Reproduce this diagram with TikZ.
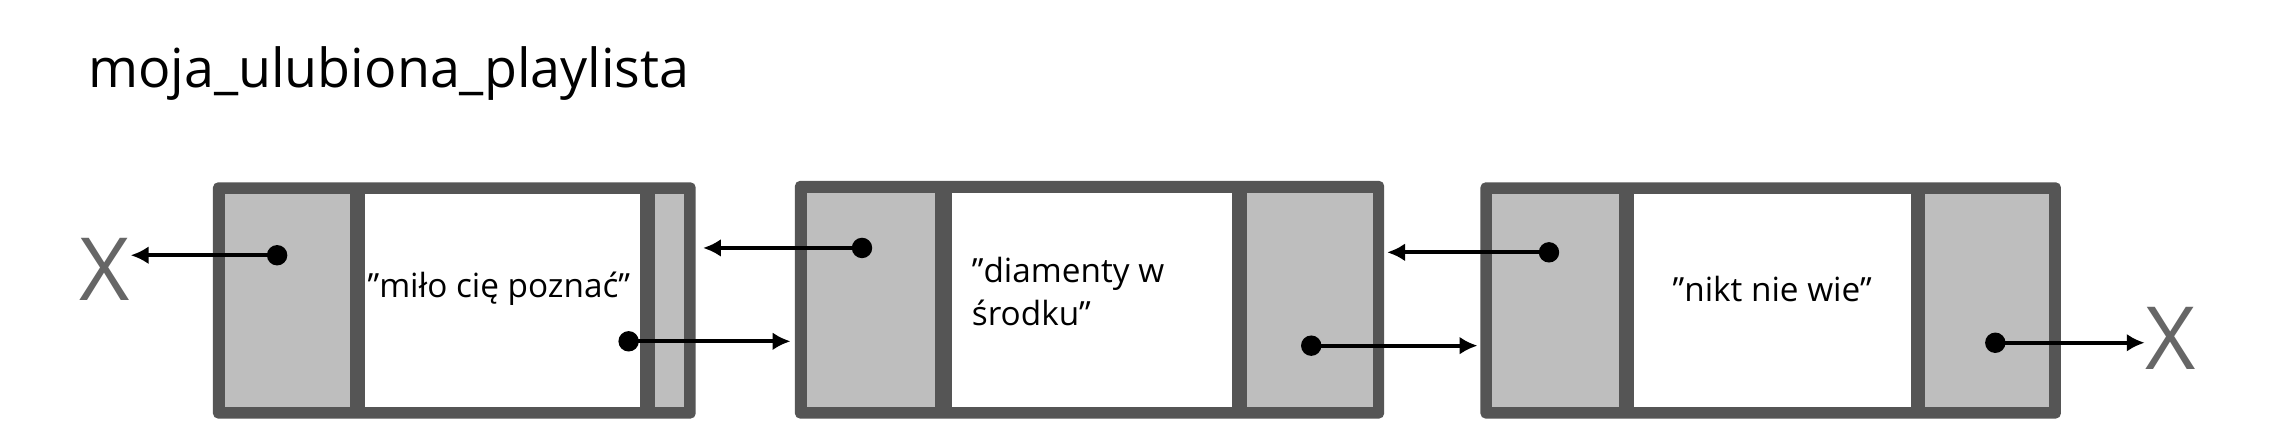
\documentclass[tikz,border=0pt]{standalone}
\usepackage{fontspec}
\setmainfont{Open Sans}
\usetikzlibrary{arrows.meta}
\definecolor{frame}{HTML}{555555}
\definecolor{cell}{HTML}{BEBEBE}
\definecolor{xgray}{HTML}{666666}
\tikzset{
  link/.style={line width=1.6pt,-{Latex[length=7pt,width=7pt]}},
  dot/.style={circle,fill=black,inner sep=0pt,minimum size=0.28cm},
  nil/.style={text=xgray,font=\fontsize{34}{34}\selectfont,inner sep=0pt},
  song/.style={font=\fontsize{13}{17}\selectfont,align=left,inner sep=0pt}
}
\begin{document}
\begin{tikzpicture}[x=0.02cm,y=-0.02cm]
    \useasboundingbox (0,0) rectangle (1568,307);
    \fill[white] (0,0) rectangle (1568,307);
    \node[anchor=base west,font=\fontsize{21}{21}\selectfont,inner sep=0pt] (title) at (60,60) {moja\_ulubiona\_playlista};

    % first element
    \fill[frame,rounded corners=2pt] (146,125) rectangle (477,287);
    \fill[cell] (154,133) rectangle (240,279);
    \fill[white] (250,133) rectangle (439,279);
    \fill[cell] (449,133) rectangle (469,279);
    \node[song] (s1) at (342,198) {"miło cię poznać"};

    % second element
    \fill[frame,rounded corners=2pt] (545,124) rectangle (949,287);
    \fill[cell] (553,132) rectangle (641,279);
    \fill[white] (653,132) rectangle (845,279);
    \fill[cell] (855,132) rectangle (941,279);
    \node[song,anchor=west] (s2) at (666,200) {"diamenty w\\środku"};

    % third element
    \fill[frame,rounded corners=2pt] (1015,125) rectangle (1413,287);
    \fill[cell] (1023,133) rectangle (1110,279);
    \fill[white] (1120,133) rectangle (1310,279);
    \fill[cell] (1320,133) rectangle (1405,279);
    \node[song] (s3) at (1215,198) {"nikt nie wie"};

    % pointers
    \node[nil] (xl) at (72,185) {X};
    \node[nil] (xr) at (1488,232) {X};
    \node[dot] (p1) at (190,175) {};
    \node[dot] (n1) at (431,234) {};
    \node[dot] (p2) at (591,170) {};
    \node[dot] (n2) at (899,237) {};
    \node[dot] (p3) at (1062,173) {};
    \node[dot] (n3) at (1368,235) {};
    \coordinate (t1) at (542,234);
    \coordinate (t2) at (482,170);
    \coordinate (t3) at (1013,237);
    \coordinate (t4) at (951,173);

    \draw[link] (p1.center) -- (xl.east |- p1);
    \draw[link] (n1.center) -- (t1);
    \draw[link] (p2.center) -- (t2);
    \draw[link] (n2.center) -- (t3);
    \draw[link] (p3.center) -- (t4);
    \draw[link] (n3.center) -- (xr.west |- n3);
\end{tikzpicture}
\end{document}
